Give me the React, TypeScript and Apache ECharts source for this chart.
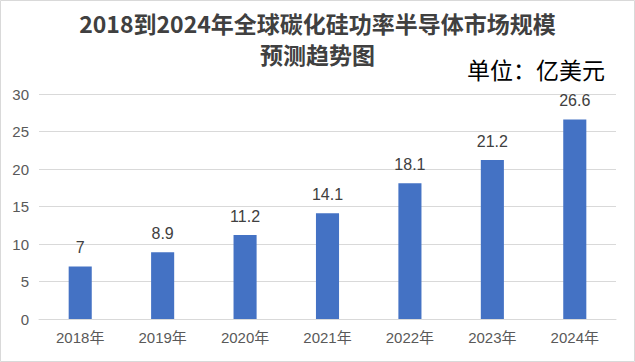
import React, { useEffect, useRef } from "react";
import * as echarts from "echarts";

const categories = ["2018年", "2019年", "2020年", "2021年", "2022年", "2023年", "2024年"];
const values = [7, 8.9, 11.2, 14.1, 18.1, 21.2, 26.6];
const yTicks = { min: 0, max: 30, interval: 5 };
const titleLines = ["2018到2024年全球碳化硅功率半导体市场规模", "预测趋势图"];

export default function App() {
  const ref = useRef<HTMLDivElement>(null);
  useEffect(() => {
    document.body.style.margin = "0";
    const chart = echarts.init(ref.current!, null, { renderer: "svg" });
    const titleStyle = {
      fontFamily: "Noto Sans CJK SC",
      fontSize: 23,
      fontWeight: "bold",
      color: "#404040",
    };
    chart.setOption({
      animation: false,
      backgroundColor: "#ffffff",
      title: [
        { text: titleLines[0], left: "center", top: 11, padding: 0, textStyle: titleStyle },
        { text: titleLines[1], left: "center", top: 42, padding: 0, textStyle: titleStyle },
      ],
      graphic: [
        {
          type: "rect",
          shape: { x: 0.5, y: 0.5, width: 634, height: 361 },
          style: { fill: "none", stroke: "#d9d9d9", lineWidth: 1 },
        },
        {
          type: "text",
          right: 30,
          top: 57,
          style: {
            text: "单位：亿美元",
            fontFamily: "Noto Sans CJK SC",
            fontSize: 23,
            fill: "#000000",
          },
        },
      ],
      grid: { left: 39, right: 19, top: 94, bottom: 43, containLabel: false },
      xAxis: {
        type: "category",
        data: categories,
        axisLine: { lineStyle: { color: "#d9d9d9" } },
        axisTick: { show: false },
        axisLabel: { color: "#595959", fontSize: 15, margin: 11, fontFamily: "Liberation Sans, Noto Sans CJK SC" },
      },
      yAxis: {
        type: "value",
        min: yTicks.min,
        max: yTicks.max,
        interval: yTicks.interval,
        axisLine: { show: false },
        axisTick: { show: false },
        splitLine: { lineStyle: { color: "#d9d9d9" } },
        axisLabel: { color: "#595959", fontSize: 15, margin: 10, fontFamily: "Liberation Sans" },
      },
      series: [
        {
          type: "bar",
          data: values,
          barWidth: "28%",
          itemStyle: { color: "#4472c4" },
          label: {
            show: true,
            position: "top",
            distance: 11,
            color: "#404040",
            fontSize: 16,
            fontFamily: "Liberation Sans",
          },
        },
      ],
    });
    return () => chart.dispose();
  }, []);
  return <div ref={ref} style={{ width: 635, height: 362 }} />;
}
